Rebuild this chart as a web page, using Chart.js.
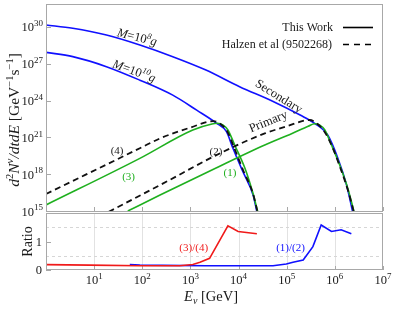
<!DOCTYPE html>
<html>
<head>
<meta charset="utf-8">
<script src="https://cdn.jsdelivr.net/npm/chart.js@4.4.0/dist/chart.umd.min.js"></script>
<style>
  html, body { margin: 0; padding: 0; background: #fff; }
  #wrap { position: relative; width: 413px; height: 312px; }
  #wrap canvas { position: absolute; left: 0; top: 0; }
</style>
</head>
<body>
<div id="wrap">
  <canvas id="spectrum" width="413" height="312"></canvas>
  <canvas id="ratio" width="413" height="312"></canvas>
</div>
<script>
// ---- data (E in GeV, flux in GeV^-1 s^-1) ----
const secondary8E = [1, 3.6, 18, 89, 430, 2100, 1.05e4, 5.1e4, 1.9e5, 3.8e5, 7.1e5, 1.15e6, 1.75e6, 2.35e6];
const secondary8F = [1.45e30, 7.8e29, 2.2e29, 3.4e28, 3.8e27, 3.1e26, 1.35e25, 8.9e23, 6.6e22, 1.4e22, 1.55e21, 2.1e19, 1.3e17, 8e14];

const secondary10E = [1, 3.6, 18, 89, 430, 1350, 3500, 5600, 7600, 1.23e4, 2e4, 2.4e4];
const secondary10F = [8.5e27, 3.8e27, 5.8e26, 4.6e25, 2.75e24, 1.65e23, 1.4e22, 2.9e21, 1.35e20, 1.6e18, 2e16, 8.7e14];

// (1) primary, this work, M=1e8 g
const primary1E = [50, 234, 3160, 3.5e4, 1.26e5, 2.8e5, 3.8e5, 4.8e5, 6.2e5, 8.5e5, 1.26e6, 1.86e6, 2.5e6];
const primary1F = [1e15, 2e16, 2.8e18, 2.4e20, 2e21, 8e21, 1.3e22, 1.05e22, 4e21, 2.4e20, 5.6e18, 7e16, 8.7e14];

// (2) Halzen et al, M=1e8 g
const halzen2E = [20, 234, 4800, 3.5e4, 1e5, 3e5, 4.2e5, 6e5, 8.9e5, 1.3e6, 1.9e6, 2.45e6];
const halzen2F = [8.5e14, 1.3e17, 6.8e19, 2.1e21, 8e21, 2.6e22, 1.4e22, 3.2e21, 1.6e20, 3.2e18, 4e16, 1e15];

// (3) primary, this work, M=1e10 g
const primary3E = [1, 89, 1120, 2800, 3600, 4800, 6000, 8300, 1.35e4, 1.95e4, 2.5e4];
const primary3F = [3.1e15, 1.95e19, 4e21, 1.25e22, 1.4e22, 1e22, 4e21, 2.4e20, 3.2e18, 3.7e16, 8.7e14];

// (4) Halzen et al, M=1e10 g
const halzen4E = [1, 89, 234, 1000, 3000, 4200, 5800, 8000, 1.25e4, 2e4, 2.45e4];
const halzen4F = [2.45e16, 1.3e20, 8.3e20, 6.3e21, 2.1e22, 1.25e22, 3.2e21, 1.6e20, 2e18, 2.5e16, 1e15];

// ratios
const ratio34E = [1, 8.1, 89, 600, 1120, 1580, 2500, 6000, 9800, 2.4e4];
const ratio34 = [0.19, 0.17, 0.15, 0.15, 0.19, 0.27, 0.41, 1.55, 1.35, 1.27];
const ratio12E = [55, 89, 2100, 5.2e4, 9.8e4, 1.35e5, 2.2e5, 3.5e5, 5.2e5, 8.5e5, 1.35e6, 2.2e6];
const ratio12 = [0.19, 0.17, 0.15, 0.15, 0.21, 0.27, 0.35, 0.82, 1.58, 1.35, 1.41, 1.27];

// tick labels
const fluxTicks = [1e15, 1e18, 1e21, 1e24, 1e27, 1e30];
const fluxTickExp = ['15', '18', '21', '24', '27', '30'];
const energyTicks = [10, 100, 1000, 1e4, 1e5, 1e6, 1e7];
const energyTickExp = ['1', '2', '3', '4', '5', '6', '7'];
const ratioTicks = [0, 1];
const ratioTickLabels = ['0', '1'];

const BLUE = '#1010ff', GREEN = '#1fb01f', RED = '#f01a1a';
const FONT = '"Liberation Serif", "DejaVu Serif", serif';
const FRAME = '#a8a8a8';

const xy = (xs, ys) => xs.map((x, i) => ({ x: x, y: ys[i] }));

// draws a run of text pieces: [text, size, italic, rise]
function rich(ctx, parts, x, y, opt) {
  opt = opt || {};
  ctx.save();
  ctx.translate(x, y);
  if (opt.rot) ctx.rotate(opt.rot * Math.PI / 180);
  ctx.fillStyle = opt.color || '#1a1a1a';
  ctx.textBaseline = 'alphabetic';
  ctx.textAlign = 'left';
  const fonts = parts.map(p => (p[2] ? 'italic ' : '') + p[1] + 'px ' + FONT);
  let w = 0;
  const widths = parts.map((p, i) => { ctx.font = fonts[i]; const m = ctx.measureText(p[0]).width; w += m; return m; });
  let cx = opt.align === 'right' ? -w : opt.align === 'left' ? 0 : -w / 2;
  const by = opt.dy || 0;
  parts.forEach((p, i) => {
    ctx.font = fonts[i];
    ctx.fillText(p[0], cx, by - (p[3] || 0));
    cx += widths[i];
  });
  ctx.restore();
}

const sup = (b, e, size) => [[b, size], [e, Math.round(size * 0.7), false, size * 0.42]];

const spectrumDecor = {
  id: 'spectrumDecor',
  beforeDatasetsDraw(chart) {
    const { ctx, chartArea: a, scales: { x, y } } = chart;
    ctx.save();
    ctx.strokeStyle = FRAME;
    ctx.lineWidth = 1;
    // tick marks inward
    ctx.beginPath();
    fluxTicks.forEach(v => { const py = Math.round(y.getPixelForValue(v)) + 0.5; ctx.moveTo(a.left, py); ctx.lineTo(a.left + 5, py); });
    energyTicks.forEach(v => { const px = Math.round(x.getPixelForValue(v)) + 0.5; ctx.moveTo(px, a.bottom); ctx.lineTo(px, a.bottom - 4); });
    ctx.stroke();
    ctx.restore();
  },
  afterDatasetsDraw(chart) {
    const { ctx, chartArea: a, scales: { x, y } } = chart;
    ctx.save();
    ctx.strokeStyle = FRAME;
    ctx.lineWidth = 1;
    ctx.strokeRect(a.left + 0.5, a.top + 0.5, a.right - a.left - 1, a.bottom - a.top);
    ctx.restore();

    // y tick labels
    fluxTicks.forEach((v, i) => {
      rich(ctx, sup('10', fluxTickExp[i], 12.5), a.left - 3, y.getPixelForValue(v) + 4.5, { align: 'right' });
    });

    // y axis title
    rich(ctx, [['d', 15.5, true], ['2', 10.5, false, 6.5], ['N', 15.5, true], ['ν', 11, true, 6.5], ['/dtdE', 15.5, true],
               [' [GeV', 15.5], ['−1', 10.5, false, 6.5], ['s', 15.5], ['−1', 10.5, false, 6.5], [']', 15.5]],
         19, 120, { rot: -90 });

    // curve annotations
    const at = (e, f) => [x.getPixelForValue(e), y.getPixelForValue(f)];
    let p = at(78, 1.5e29);
    rich(ctx, [['M', 12.5, true], ['=10', 12.5], ['8', 8.5, true, 5], ['g', 12.5, true]], p[0], p[1], { rot: 14, dy: 4 });
    p = at(68, 2.6e26);
    rich(ctx, [['M', 12.5, true], ['=10', 12.5], ['10', 8.5, true, 5], ['g', 12.5, true]], p[0], p[1], { rot: 20, dy: 4 });
    p = at(6.9e4, 2.3e24);
    rich(ctx, [['Secondary', 12.5]], p[0], p[1], { rot: 32, dy: 4 });
    p = at(4.1e4, 2.1e22);
    rich(ctx, [['Primary', 12.5]], p[0], p[1], { rot: -22, dy: 4 });
    p = at(30, 9.3e19);
    rich(ctx, [['(4)', 11]], p[0], p[1], { dy: 4 });
    p = at(52, 7e17);
    rich(ctx, [['(3)', 11]], p[0], p[1], { dy: 4, color: GREEN });
    p = at(3400, 7.8e19);
    rich(ctx, [['(2)', 11]], p[0], p[1], { dy: 4 });
    p = at(6600, 1.5e18);
    rich(ctx, [['(1)', 11]], p[0], p[1], { dy: 4, color: GREEN });

    // legend
    rich(ctx, [['This Work', 12]], 333, 31, { align: 'right' });
    rich(ctx, [['Halzen et al (9502268)', 12]], 332, 48, { align: 'right' });
    ctx.save();
    ctx.strokeStyle = '#000';
    ctx.lineWidth = 1.6;
    ctx.beginPath(); ctx.moveTo(343, 27.5); ctx.lineTo(373, 27.5); ctx.stroke();
    ctx.setLineDash([6, 5]);
    ctx.beginPath(); ctx.moveTo(343, 44.5); ctx.lineTo(371, 44.5); ctx.stroke();
    ctx.restore();
  }
};

const ratioDecor = {
  id: 'ratioDecor',
  beforeDatasetsDraw(chart) {
    const { ctx, chartArea: a, scales: { x, y } } = chart;
    ctx.save();
    ctx.lineWidth = 1;
    ctx.strokeStyle = '#e2e2e2';
    ctx.beginPath();
    energyTicks.slice(0, -1).forEach(v => { const px = Math.round(x.getPixelForValue(v)) + 0.5; ctx.moveTo(px, a.top); ctx.lineTo(px, a.bottom); });
    ctx.stroke();
    ctx.setLineDash([3, 3]);
    ctx.strokeStyle = '#d6d6d6';
    ctx.beginPath();
    [0.5, 1.5].forEach(v => { const py = Math.round(y.getPixelForValue(v)) + 0.5; ctx.moveTo(a.left, py); ctx.lineTo(a.right, py); });
    ctx.stroke();
    ctx.setLineDash([]);
    ctx.strokeStyle = FRAME;
    ctx.beginPath();
    ratioTicks.forEach(v => { const py = Math.round(y.getPixelForValue(v)) + 0.5; ctx.moveTo(a.left, py); ctx.lineTo(a.left + 5, py); });
    energyTicks.forEach(v => { const px = Math.round(x.getPixelForValue(v)) + 0.5; ctx.moveTo(px, a.bottom); ctx.lineTo(px, a.bottom - 4); });
    ctx.stroke();
    ctx.restore();
  },
  afterDatasetsDraw(chart) {
    const { ctx, chartArea: a, scales: { x, y } } = chart;
    ctx.save();
    ctx.strokeStyle = FRAME;
    ctx.lineWidth = 1;
    ctx.strokeRect(a.left + 0.5, a.top + 0.5, a.right - a.left - 1, a.bottom - a.top - 1);
    ctx.restore();

    ratioTicks.forEach((v, i) => {
      rich(ctx, [[ratioTickLabels[i], 12.5]], a.left - 4, y.getPixelForValue(v) + 4, { align: 'right' });
    });
    energyTicks.forEach((v, i) => {
      rich(ctx, sup('10', energyTickExp[i], 12.5), x.getPixelForValue(v), a.bottom + 14, {});
    });
    rich(ctx, [['Ratio', 14]], 32, y.getPixelForValue(1), { rot: -90 });
    rich(ctx, [['E', 14.5, true], ['ν', 10, true, -3], [' [GeV]', 14.5]], 211, 301, {});

    let p = [x.getPixelForValue(1170), y.getPixelForValue(0.8)];
    rich(ctx, [['(3)/(4)', 11]], p[0], p[1], { dy: 4, color: RED });
    p = [x.getPixelForValue(1.2e5), y.getPixelForValue(0.8)];
    rich(ctx, [['(1)/(2)', 11]], p[0], p[1], { dy: 4, color: BLUE });
  }
};

const curve = (label, xs, ys, color, dashed) => ({
  label: label,
  data: xy(xs, ys),
  borderColor: color,
  borderWidth: dashed ? 1.8 : 1.6,
  borderDash: dashed ? [6, 4] : [],
  cubicInterpolationMode: 'monotone',
  pointRadius: 0,
  fill: false
});

new Chart(document.getElementById('spectrum'), {
  type: 'line',
  data: {
    datasets: [
      curve('(4) Halzen M=1e10 g', halzen4E, halzen4F, '#111', true),
      curve('(2) Halzen M=1e8 g', halzen2E, halzen2F, '#111', true),
      curve('(3) Primary M=1e10 g', primary3E, primary3F, GREEN, false),
      curve('(1) Primary M=1e8 g', primary1E, primary1F, GREEN, false),
      curve('Secondary M=1e10 g', secondary10E, secondary10F, BLUE, false),
      curve('Secondary M=1e8 g', secondary8E, secondary8F, BLUE, false)
    ]
  },
  options: {
    responsive: false,
    animation: false,
    layout: { padding: { left: 46, right: 30, top: 4, bottom: 101 } },
    plugins: { legend: { display: false }, tooltip: { enabled: false } },
    scales: {
      x: { type: 'logarithmic', min: 1, max: 1e7, display: false },
      y: { type: 'logarithmic', min: 1e15, max: 7.4e31, display: false }
    }
  },
  plugins: [spectrumDecor]
});

new Chart(document.getElementById('ratio'), {
  type: 'line',
  data: {
    datasets: [
      { label: '(3)/(4)', data: xy(ratio34E, ratio34), borderColor: RED, borderWidth: 1.6, pointRadius: 0, tension: 0 },
      { label: '(1)/(2)', data: xy(ratio12E, ratio12), borderColor: BLUE, borderWidth: 1.6, pointRadius: 0, tension: 0 }
    ]
  },
  options: {
    responsive: false,
    animation: false,
    layout: { padding: { left: 46, right: 30, top: 213, bottom: 42 } },
    plugins: { legend: { display: false }, tooltip: { enabled: false } },
    scales: {
      x: { type: 'logarithmic', min: 1, max: 1e7, display: false },
      y: { type: 'linear', min: 0, max: 2, display: false }
    }
  },
  plugins: [ratioDecor]
});
</script>
</body>
</html>
